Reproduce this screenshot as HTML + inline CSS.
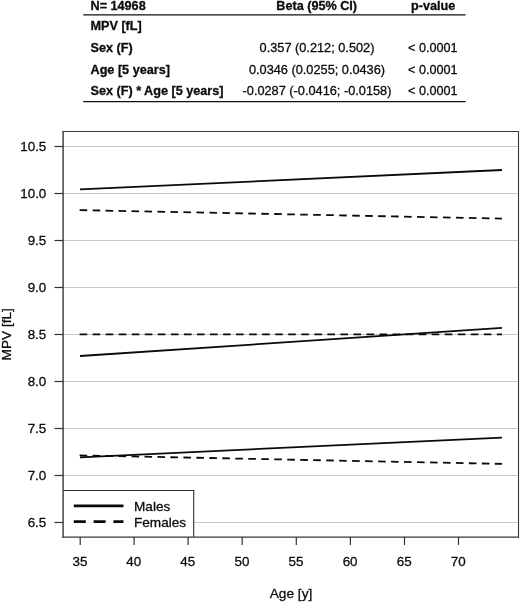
<!DOCTYPE html>
<html>
<head>
<meta charset="utf-8">
<title>MPV by Age and Sex</title>
<style>
  html, body { margin: 0; padding: 0; background: #ffffff; }
  body { width: 520px; height: 603px; overflow: hidden; font-family: "Liberation Sans", sans-serif; }
  svg { display: block; will-change: transform; filter: grayscale(1); }
  text { font-family: "Liberation Sans", sans-serif; fill: #0c0c0c; stroke: #0c0c0c; stroke-width: 0.3px; stroke-linejoin: round; }
  .b { font-weight: bold; }
  .t { font-size: 12.65px; }
  .ax { font-size: 13.4px; }
  .lg { font-size: 13.6px; }
</style>
</head>
<body>
<svg width="520" height="603" viewBox="0 0 520 603">
  <rect x="0" y="0" width="520" height="603" fill="#ffffff"/>

  <!-- table -->
  <g class="t">
    <text class="b" x="90.5" y="9.5">N= 14968</text>
    <text class="b" x="316.7" y="9.5" text-anchor="middle">Beta (95% CI)</text>
    <text class="b" x="433.2" y="9.5" text-anchor="middle">p-value</text>
    <line x1="83.3" y1="14.8" x2="465.6" y2="14.8" stroke="#111" stroke-width="1.3"/>
    <text class="b" x="90.5" y="29.7">MPV [fL]</text>
    <text class="b" x="90.5" y="51.5">Sex (F)</text>
    <text class="b" x="90.5" y="73.5">Age [5 years]</text>
    <text class="b" x="90.5" y="95">Sex (F) * Age [5 years]</text>
    <text x="317" y="51.5" text-anchor="middle" style="font-size:12.75px">0.357 (0.212; 0.502)</text>
    <text x="317" y="73.5" text-anchor="middle" style="font-size:12.75px">0.0346 (0.0255; 0.0436)</text>
    <text x="317" y="95" text-anchor="middle" style="font-size:12.75px">-0.0287 (-0.0416; -0.0158)</text>
    <text x="432.8" y="51.5" text-anchor="middle">&lt; 0.0001</text>
    <text x="432.8" y="73.5" text-anchor="middle">&lt; 0.0001</text>
    <text x="432.8" y="95" text-anchor="middle">&lt; 0.0001</text>
    <line x1="83.3" y1="101.6" x2="465.6" y2="101.6" stroke="#111" stroke-width="1.3"/>
  </g>

  <!-- gridlines -->
  <g stroke="#c9c9c9" stroke-width="1">
    <line x1="63" y1="146.5" x2="518.5" y2="146.5"/>
    <line x1="63" y1="193.5" x2="518.5" y2="193.5"/>
    <line x1="63" y1="240.5" x2="518.5" y2="240.5"/>
    <line x1="63" y1="287.5" x2="518.5" y2="287.5"/>
    <line x1="63" y1="334.5" x2="518.5" y2="334.5"/>
    <line x1="63" y1="381.5" x2="518.5" y2="381.5"/>
    <line x1="63" y1="428.5" x2="518.5" y2="428.5"/>
    <line x1="63" y1="475.5" x2="518.5" y2="475.5"/>
    <line x1="63" y1="522.5" x2="518.5" y2="522.5"/>
  </g>

  <!-- data lines -->
  <g stroke="#0a0a0a" stroke-width="1.8" fill="none">
    <line x1="80" y1="189.4" x2="502" y2="170"/>
    <line x1="80" y1="356" x2="502" y2="327.9"/>
    <line x1="80" y1="457.3" x2="502" y2="437.6"/>
    <g stroke-dasharray="7.6 5.44">
      <line x1="79.6" y1="210.1" x2="502" y2="218.6" stroke-dasharray="7.6 5.38"/>
      <line x1="79.6" y1="334.3" x2="502" y2="334.3"/>
      <line x1="79.6" y1="455.4" x2="502" y2="463.9" stroke-dasharray="7.6 5.38"/>
    </g>
  </g>

  <!-- legend background -->
  <rect x="63" y="490.5" width="130.7" height="46.5" fill="#ffffff" stroke="none"/>

  <!-- plot box -->
  <g stroke="#383838" fill="none">
    <line x1="63.1" y1="131" x2="63.1" y2="537.85" stroke-width="1.4"/>
    <line x1="62.4" y1="131.5" x2="519" y2="131.5" stroke-width="1.05"/>
    <line x1="518.5" y1="131" x2="518.5" y2="537.85" stroke-width="1.1"/>
    <line x1="62.4" y1="537.2" x2="519" y2="537.2" stroke-width="1.3"/>
  </g>

  <!-- legend -->
  <line x1="63" y1="490.5" x2="194.2" y2="490.5" stroke="#2e2e2e" stroke-width="1.05"/>
  <line x1="193.7" y1="490" x2="193.7" y2="537" stroke="#2e2e2e" stroke-width="1.1"/>
  <line x1="73.8" y1="505.8" x2="123.5" y2="505.8" stroke="#0a0a0a" stroke-width="2.7"/>
  <line x1="73.8" y1="521.6" x2="123.5" y2="521.6" stroke="#0a0a0a" stroke-width="2.7" stroke-dasharray="12 7.8"/>
  <text class="lg" x="134" y="510.6">Males</text>
  <text class="lg" x="134" y="526.6">Females</text>

  <!-- y ticks -->
  <g stroke="#333" stroke-width="1.2">
    <line x1="54.5" y1="146.5" x2="63" y2="146.5"/>
    <line x1="54.5" y1="193.5" x2="63" y2="193.5"/>
    <line x1="54.5" y1="240.5" x2="63" y2="240.5"/>
    <line x1="54.5" y1="287.5" x2="63" y2="287.5"/>
    <line x1="54.5" y1="334.5" x2="63" y2="334.5"/>
    <line x1="54.5" y1="381.5" x2="63" y2="381.5"/>
    <line x1="54.5" y1="428.5" x2="63" y2="428.5"/>
    <line x1="54.5" y1="475.5" x2="63" y2="475.5"/>
    <line x1="54.5" y1="522.5" x2="63" y2="522.5"/>
  </g>
  <g class="ax" text-anchor="end">
    <text x="46.3" y="151.4">10.5</text>
    <text x="46.3" y="198.4">10.0</text>
    <text x="46.3" y="245.4">9.5</text>
    <text x="46.3" y="292.4">9.0</text>
    <text x="46.3" y="339.4">8.5</text>
    <text x="46.3" y="386.4">8.0</text>
    <text x="46.3" y="433.4">7.5</text>
    <text x="46.3" y="480.4">7.0</text>
    <text x="46.3" y="527.4">6.5</text>
  </g>

  <!-- x ticks -->
  <g stroke="#333" stroke-width="1.2">
    <line x1="80.2" y1="537" x2="80.2" y2="545"/>
    <line x1="134.1" y1="537" x2="134.1" y2="545"/>
    <line x1="188.1" y1="537" x2="188.1" y2="545"/>
    <line x1="242.2" y1="537" x2="242.2" y2="545"/>
    <line x1="296.3" y1="537" x2="296.3" y2="545"/>
    <line x1="350.4" y1="537" x2="350.4" y2="545"/>
    <line x1="404.5" y1="537" x2="404.5" y2="545"/>
    <line x1="458.5" y1="537" x2="458.5" y2="545"/>
  </g>
  <g class="ax" text-anchor="middle">
    <text x="79.9" y="566.2">35</text>
    <text x="133.8" y="566.2">40</text>
    <text x="187.8" y="566.2">45</text>
    <text x="241.9" y="566.2">50</text>
    <text x="296.0" y="566.2">55</text>
    <text x="350.1" y="566.2">60</text>
    <text x="404.2" y="566.2">65</text>
    <text x="458.2" y="566.2">70</text>
  </g>

  <!-- axis titles -->
  <text class="ax" x="291" y="598.2" text-anchor="middle" style="font-size:13.7px">Age [y]</text>
  <text class="ax" transform="translate(11.2,334.3) rotate(-90)" text-anchor="middle" style="font-size:13.65px">MPV [fL]</text>
</svg>
</body>
</html>
